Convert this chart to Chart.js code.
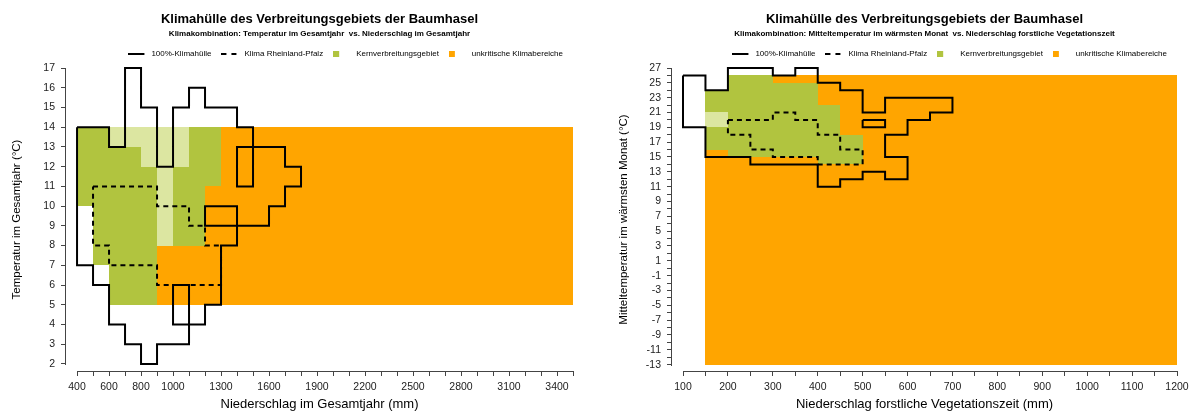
<!DOCTYPE html>
<html>
<head>
<meta charset="utf-8">
<script src="https://cdn.jsdelivr.net/npm/chart.js@4.4.1/dist/chart.umd.min.js"></script>
<style>
  body { margin: 0; background: #fff; }
  #wrap { display: flex; width: 1195px; height: 416px; }
  canvas { display: block; }
</style>
</head>
<body>
<div id="wrap">
  <canvas id="left" width="597" height="416"></canvas>
  <canvas id="right" width="598" height="416"></canvas>
</div>
<script>
// ---------- left: Temperatur im Gesamtjahr vs. Niederschlag im Gesamtjahr ----------
const leftXLabels = [400, 600, 800, 1000, 1300, 1600, 1900, 2200, 2500, 2800, 3100, 3400];
const leftYLabels = [2, 3, 4, 5, 6, 7, 8, 9, 10, 11, 12, 13, 14, 15, 16, 17];

// 100%-Klimahuelle, outline in drawing order [mm, °C]
const leftHull = [[400,14],[600,14],[600,13],[700,13],[700,17],[800,17],[800,15],[900,15],[900,12],
  [1000,12],[1000,15],[1100,15],[1100,16],[1200,16],[1200,15],[1400,15],[1400,14],[1500,14],[1500,11],
  [1400,11],[1400,13],[1700,13],[1700,12],[1800,12],[1800,11],[1700,11],[1700,10],[1600,10],[1600,9],
  [1200,9],[1200,10],[1400,10],[1400,8],[1300,8],[1300,5],[1200,5],[1200,4],[1000,4],[1000,6],[1100,6],
  [1100,3],[900,3],[900,2],[800,2],[800,3],[700,3],[700,4],[600,4],[600,6],[500,6],[500,7],[400,7],[400,14]];

// Klima Rheinland-Pfalz
const leftRlp = [[500,11],[900,11],[900,10],[1100,10],[1100,9],[1200,9],[1200,8],[1300,8],[1300,6],
  [900,6],[900,7],[600,7],[600,8],[500,8],[500,11]];

// cells: [mm from, mm to, °C from, °C to]
const leftCore = [[400,600,13,14],[1100,1300,13,14],[400,800,12,13],[1100,1300,12,13],
  [400,900,11,12],[1000,1300,11,12],[400,900,10,11],[1000,1200,10,11],[500,900,8,10],
  [1000,1200,8,10],[500,900,7,8],[600,900,5,7]];
const leftCoreLight = [[600,1100,13,14],[800,1100,12,13],[900,1000,8,12]];
const leftUncritical = [[1300,3500,5,14],[1200,1300,5,11],[900,1200,5,8]];

// ---------- right: Mitteltemperatur waermster Monat vs. Niederschlag Vegetationszeit ----------
const rightXLabels = [100, 200, 300, 400, 500, 600, 700, 800, 900, 1000, 1100, 1200];
const rightYLabels = [27, 25, 23, 21, 19, 17, 15, 13, 11, 9, 7, 5, 3, 1, -1, -3, -5, -7, -9, -11, -13];

const rightHull = [[100,26],[150,26],[150,24],[200,24],[200,27],[300,27],[300,26],[350,26],[350,27],
  [400,27],[400,25],[450,25],[450,24],[500,24],[500,21],[550,21],[550,23],[700,23],[700,21],[650,21],
  [650,20],[600,20],[600,18],[550,18],[550,15],[600,15],[600,12],[550,12],[550,13],[500,13],[500,12],
  [450,12],[450,11],[400,11],[400,14],[250,14],[250,15],[150,15],[150,19],[100,19],[100,26]];
const rightHullIsland = [[500,20],[550,20],[550,19],[500,19],[500,20]];

const rightRlp = [[200,20],[300,20],[300,21],[350,21],[350,20],[400,20],[400,18],[450,18],[450,16],
  [500,16],[500,14],[400,14],[400,15],[300,15],[300,16],[250,16],[250,18],[200,18],[200,20]];

const rightCore = [[200,300,25,26],[200,400,24,25],[150,400,22,24],[150,450,21,22],[200,450,19,21],
  [150,450,18,19],[150,500,16,18],[200,500,15,16],[400,500,14,15]];
const rightCoreLight = [[150,200,19,21]];
const rightUncritical = [[150,1200,-13,24],[200,1200,24,26]];

const FONT = "'Liberation Sans', Arial, sans-serif";
const GREEN = '#b1c43f';
const LIGHT_GREEN = '#dce6a1';
const ORANGE = '#ffa500';
const AXIS = '#444';

const toPoints = path => path.map(([x, y]) => ({x, y}));

// filled cells, drawn under the outlines
function cellsPlugin(layers) {
  return {
    id: 'cells',
    beforeDatasetsDraw(chart) {
      const {ctx, chartArea, scales: {x, y}} = chart;
      ctx.save();
      ctx.beginPath();
      ctx.rect(chartArea.left, chartArea.top, chartArea.width, chartArea.height);
      ctx.clip();
      layers.forEach(layer => {
        ctx.fillStyle = layer.color;
        layer.cells.forEach(([x0, x1, y0, y1]) => {
          const l = Math.round(x.getPixelForValue(x0));
          const r = Math.round(x.getPixelForValue(x1));
          const t = Math.round(y.getPixelForValue(y1));
          const b = Math.round(y.getPixelForValue(y0));
          ctx.fillRect(l, t, r - l, b - t);
        });
      });
      ctx.restore();
    }
  };
}

// R-style axis lines: only from first to last tick
const axisLines = {
  id: 'axisLines',
  afterDraw(chart) {
    const {ctx, chartArea, scales: {x, y}} = chart;
    const xt = x.ticks, yt = y.ticks;
    ctx.save();
    ctx.strokeStyle = AXIS;
    ctx.lineWidth = 1;
    ctx.beginPath();
    const yb = Math.round(chartArea.bottom) + 0.5;
    ctx.moveTo(Math.round(x.getPixelForValue(xt[0].value)), yb);
    ctx.lineTo(Math.round(x.getPixelForValue(xt[xt.length - 1].value)) + 1, yb);
    const xl = Math.round(chartArea.left) - 0.5;
    ctx.moveTo(xl, Math.round(y.getPixelForValue(yt[0].value)) + 1);
    ctx.lineTo(xl, Math.round(y.getPixelForValue(yt[yt.length - 1].value)));
    ctx.stroke();
    ctx.restore();
  }
};

function lineSample(dash) {
  const c = document.createElement('canvas');
  c.width = 19; c.height = 4;
  const g = c.getContext('2d');
  g.strokeStyle = '#000';
  g.lineWidth = 2;
  g.setLineDash(dash);
  g.beginPath(); g.moveTo(0, 2); g.lineTo(16, 2); g.stroke();
  return c;
}

function squareSample(color) {
  const c = document.createElement('canvas');
  c.width = 19; c.height = 6;
  const g = c.getContext('2d');
  g.fillStyle = color;
  g.fillRect(0, 0, 6, 6);
  return c;
}

const legendEntries = [
  {text: '100%-Klimahülle', style: lineSample([])},
  {text: 'Klima Rheinland-Pfalz', style: lineSample([5, 5])},
  {text: 'Kernverbreitungsgebiet', style: squareSample(GREEN)},
  {text: 'unkritische Klimabereiche', style: squareSample(ORANGE)}
];

function buildChart(id, p) {
  const lineSets = p.lines.map(l => ({
    data: toPoints(l.path),
    showLine: true,
    borderColor: '#000',
    borderWidth: 2,
    borderDash: l.dash,
    pointRadius: 0,
    pointHoverRadius: 0,
    fill: false,
    clip: false
  }));

  return new Chart(document.getElementById(id), {
    type: 'scatter',
    data: {datasets: lineSets},
    options: {
      responsive: false,
      animation: false,
      devicePixelRatio: 1,
      events: [],
      layout: {padding: {left: 0, right: p.padRight, top: 0, bottom: 0}},
      plugins: {
        tooltip: {enabled: false},
        title: {
          display: true, fullSize: false, color: '#000',
          text: 'Klimahülle des Verbreitungsgebiets der Baumhasel',
          font: {family: FONT, size: 13, weight: 'bold'},
          padding: {top: 12, bottom: 0}
        },
        subtitle: {
          display: true, fullSize: false, color: '#000',
          text: p.subtitle,
          font: {family: FONT, size: 8, weight: 'bold'},
          padding: {top: 1, bottom: 1.8}
        },
        legend: {
          display: true, fullSize: false, align: 'end',
          onClick: null,
          labels: {
            usePointStyle: true, pointStyleWidth: 19, boxHeight: 8, padding: 10,
            color: '#000', font: {family: FONT, size: 8},
            generateLabels: () => legendEntries.map((e, i) => ({
              text: e.text, pointStyle: e.style, fillStyle: 'rgba(0,0,0,0)',
              strokeStyle: 'rgba(0,0,0,0)', lineWidth: 0, hidden: false, index: i
            }))
          }
        }
      },
      scales: {
        x: {
          type: 'linear', position: 'bottom',
          min: p.xMin, max: p.xMax,
          afterFit: s => { s.height = 45; },
          border: {display: false},
          grid: {drawOnChartArea: false, drawTicks: true, tickLength: 5, color: AXIS, lineWidth: 1},
          ticks: {
            stepSize: p.xStep, includeBounds: false, autoSkip: false, maxRotation: 0,
            padding: 5, color: '#222', font: {family: FONT, size: 10.5},
            callback: v => p.xLabels.includes(v) ? String(v) : ''
          },
          title: {
            display: true, text: p.xTitle, color: '#000',
            font: {family: FONT, size: 13}, padding: {top: 0, bottom: 4}
          }
        },
        y: {
          type: 'linear', position: 'left',
          min: p.yMin, max: p.yMax,
          afterFit: s => { s.width = p.yWidth; },
          border: {display: false},
          grid: {drawOnChartArea: false, drawTicks: true, tickLength: 5, color: AXIS, lineWidth: 1},
          ticks: {
            stepSize: 1, includeBounds: false, autoSkip: false,
            padding: 6, color: '#222', font: {family: FONT, size: 10.5},
            callback: v => p.yLabels.includes(v) ? String(v) : ''
          },
          title: {
            display: true, text: p.yTitle, color: '#000',
            font: {family: FONT, size: 11.5}, padding: {top: p.yTitlePad, bottom: 0}
          }
        }
      }
    },
    plugins: [cellsPlugin(p.cells), axisLines]
  });
}

buildChart('left', {
  subtitle: 'Klimakombination: Temperatur im Gesamtjahr  vs. Niederschlag im Gesamtjahr',
  xTitle: 'Niederschlag im Gesamtjahr (mm)',
  yTitle: 'Temperatur im Gesamtjahr (°C)',
  xMin: 331, xMax: 3500, xStep: 100, xLabels: leftXLabels,
  yMin: 1.645, yMax: 17, yLabels: leftYLabels,
  yWidth: 66, padRight: 24, yTitlePad: 10,
  lines: [{path: leftHull, dash: []}, {path: leftRlp, dash: [5, 4]}],
  cells: [
    {color: ORANGE, cells: leftUncritical},
    {color: GREEN, cells: leftCore},
    {color: LIGHT_GREEN, cells: leftCoreLight}
  ]
});

buildChart('right', {
  subtitle: 'Klimakombination: Mitteltemperatur im wärmsten Monat  vs. Niederschlag forstliche Vegetationszeit',
  xTitle: 'Niederschlag forstliche Vegetationszeit (mm)',
  yTitle: 'Mitteltemperatur im wärmsten Monat (°C)',
  xMin: 75.5, xMax: 1200, xStep: 50, xLabels: rightXLabels,
  yMin: -13.86, yMax: 27, yLabels: rightYLabels,
  yWidth: 75, padRight: 18, yTitlePad: 20,
  lines: [{path: rightHull, dash: []}, {path: rightHullIsland, dash: []}, {path: rightRlp, dash: [5, 4]}],
  cells: [
    {color: ORANGE, cells: rightUncritical},
    {color: GREEN, cells: rightCore},
    {color: LIGHT_GREEN, cells: rightCoreLight}
  ]
});
</script>
</body>
</html>
